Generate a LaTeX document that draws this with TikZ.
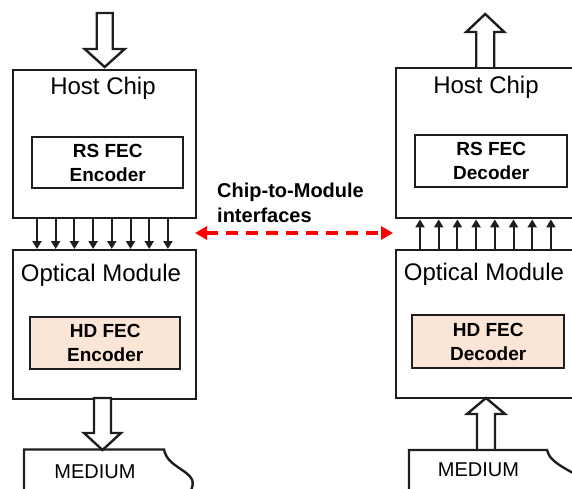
\documentclass[tikz,border=0pt]{standalone}
\usepackage{fontspec}
\setmainfont{Liberation Sans}
\usetikzlibrary{arrows.meta,calc}
\definecolor{ink}{HTML}{1E1E1E}
\definecolor{hdfill}{HTML}{FBE5D6}
\definecolor{linkred}{HTML}{FF0000}

\begin{document}
\begin{tikzpicture}[x=1pt,y=-1pt,
  outerbox/.style={draw=ink,line width=2.4pt,minimum width=183pt,inner sep=0pt,anchor=north west},
  fecbox/.style={draw=ink,line width=2.4pt,inner sep=0pt,anchor=north west,align=center,
    font=\fontsize{19}{24}\selectfont\bfseries},
  hdbox/.style={fecbox,fill=hdfill},
  title/.style={font=\fontsize{24}{28}\selectfont,inner sep=0pt},
  medtext/.style={font=\fontsize{20}{24}\selectfont,inner sep=0pt},
  hollow/.style={draw=ink,line width=2.4pt,fill=white,line join=miter},
  lane/.style={draw=ink,line width=2pt,-{Triangle[length=8pt,width=9pt]}},
  link/.style={draw=linkred,line width=3.6pt,dash pattern=on 12pt off 8pt,
    {Triangle[length=12pt,width=13pt]}-{Triangle[length=12pt,width=13pt]}},
  mediumline/.style={draw=ink,line width=2.4pt}]

\useasboundingbox (0,0) rectangle (572,489);
\clip (0,0) rectangle (572,489);

% ---------------- transmit side ----------------
\node[outerbox,minimum height=148pt] (h1) at (12,69) {};
\node[outerbox,minimum height=149pt] (m1) at (12,249) {};
\node[title] (h1t) at (103,88) {Host Chip};
\node[title] (m1t) at (101,275) {Optical Module};
\node[fecbox,minimum width=151pt,minimum height=51pt] (enc1) at (31,136) {RS FEC\\Encoder};
\node[hdbox,minimum width=150pt,minimum height=52pt] (enc2) at (29,316) {HD FEC\\Encoder};

% parallel lanes host -> module
\foreach \i in {0,...,7}
  \draw[lane] ([xshift={25pt+18.7pt*\i}]h1.south west) -- ([xshift={25pt+18.7pt*\i}]m1.north west);

% data in (top) and out to medium (bottom)
\draw[hollow] (h1.north) ++(0,-2) -- ++(-20,-18) -- ++(12,0) -- ++(0,-36)
  -- ++(16,0) -- ++(0,36) -- ++(12,0) -- cycle;

\coordinate (med1top) at (102.5,450);
\draw[hollow] (med1top) -- ++(-18.5,-17) -- ++(10,0) -- ++(0,-35) -- ++(17,0)
  -- ++(0,35) -- ++(10,0) -- cycle;

\draw[mediumline] (24,495) -- (24,449.5) -- (164,449.5)
  .. controls (166,458) and (170,462) .. (182,470)
  .. controls (196,479) and (194,484) .. (189,495);
\node[medtext] (med1) at (95,472) {MEDIUM};

% ---------------- receive side ----------------
\node[outerbox,minimum height=150pt] (h2) at (395,67) {};
\node[outerbox,minimum height=148pt] (m2) at (395,249) {};
\node[title] (h2t) at (486,87) {Host Chip};
\node[title] (m2t) at (484,274) {Optical Module};
\node[fecbox,minimum width=152pt,minimum height=52pt] (dec1) at (414,134) {RS FEC\\Decoder};
\node[hdbox,minimum width=152pt,minimum height=53pt] (dec2) at (411,314) {HD FEC\\Decoder};

% parallel lanes module -> host
\foreach \i in {0,...,7}
  \draw[lane] ([xshift={25pt+18.7pt*\i}]m2.north west) -- ([xshift={25pt+18.7pt*\i}]h2.south west);

% data out (top) and in from medium (bottom)
\draw[hollow] ([xshift=-2.5pt]h2.north) ++(-9,0) -- ++(0,-35) -- ++(-10,0) -- ++(19,-18)
  -- ++(19,18) -- ++(-10,0) -- ++(0,35);

\coordinate (med2top) at (486,450);
\draw[hollow] (med2top) ++(-9,0) -- ++(0,-36) -- ++(-10,0) -- ++(19,-16)
  -- ++(19,16) -- ++(-10,0) -- ++(0,36);

\draw[mediumline] (409,495) -- (409,450) -- (547,450)
  .. controls (549,457) and (552,462) .. (575,474);
\node[medtext] (med2) at (478.5,470) {MEDIUM};

% ---------------- chip-to-module link ----------------
\coordinate (linkL) at (195,233);
\coordinate (linkR) at (393,233);
\draw[link] (linkL) -- (linkR);
\node[anchor=base west,inner sep=0pt,align=left,font=\fontsize{20}{25}\selectfont\bfseries]
  (ifc) at (217,222) {Chip-to-Module\\interfaces};

\end{tikzpicture}
\end{document}
